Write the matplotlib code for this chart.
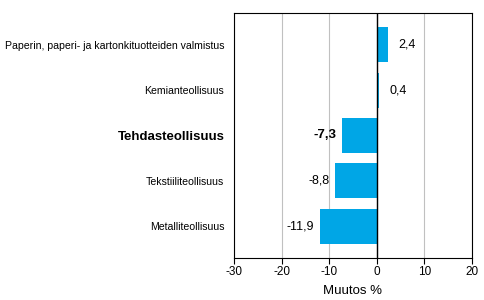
import matplotlib
matplotlib.use("Agg")
from matplotlib import pyplot as plt

plt.rcParams["font.family"] = ["Liberation Sans", "DejaVu Sans"]

categories = [
    "Paperin, paperi- ja kartonkituotteiden valmistus",
    "Kemianteollisuus",
    "Tehdasteollisuus",
    "Tekstiiliteollisuus",
    "Metalliteollisuus",
]
values = [2.4, 0.4, -7.3, -8.8, -11.9]
value_labels = ["2,4", "0,4", "-7,3", "-8,8", "-11,9"]
bold_index = 2

fig = plt.figure(figsize=(4.85, 3.0), dpi=100)
ax = fig.add_axes([234 / 485, 1 - 258 / 300, (472 - 234) / 485, (258 - 13) / 300])

pos = list(range(len(categories)))
ax.barh(pos, values, height=0.77, color="#00A6E6", zorder=3)
ax.axvline(0, color="black", linewidth=1, zorder=4)

for i, (v, lab) in enumerate(zip(values, value_labels)):
    bold = i == bold_index
    if v >= 0:
        ax.text(v + 2.2, i, lab, ha="left", va="center", fontsize=9,
                fontweight="bold" if bold else "normal")
    else:
        ax.text(v - 1.2, i, lab, ha="right", va="center", fontsize=9.5 if bold else 9,
                fontweight="bold" if bold else "normal")

ax.set_xlim(-30, 20)
ax.set_ylim(4.7, -0.7)
ax.set_xticks([-30, -20, -10, 0, 10, 20])
ax.set_xticklabels(["-30", "-20", "-10", "0", "10", "20"], fontsize=8.5)
ax.set_yticks(pos)
ax.set_yticklabels(categories, fontsize=7.6)
for i, t in enumerate(ax.get_yticklabels()):
    if i == bold_index:
        t.set_fontweight("bold")
        t.set_fontsize(9.5)
ax.tick_params(axis="y", length=0, pad=7)
ax.tick_params(axis="x", length=4, direction="out", pad=2)
ax.grid(axis="x", color="#c0c0c0", linewidth=0.8, zorder=0)
for s in ax.spines.values():
    s.set_color("black")
    s.set_linewidth(0.8)
ax.set_xlabel("Muutos %", fontsize=9.5)
ax.xaxis.set_label_coords(0.5, -0.11)

plt.savefig("out.png", dpi=100)
